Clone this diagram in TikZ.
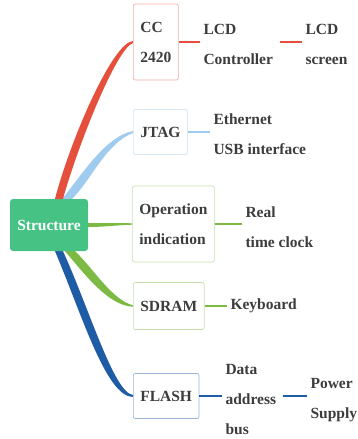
\documentclass[tikz,border=0pt]{standalone}
\usepackage{fontspec}
\setmainfont{Liberation Serif}
\newfontfamily\mapfont{Liberation Serif}[BoldFont={Liberation Serif Bold}]
\usetikzlibrary{backgrounds}

\definecolor{rootgreen}{HTML}{46C285}
\definecolor{ccred}{HTML}{E4503B}
\definecolor{jtagblue}{HTML}{9FCBEE}
\definecolor{opgreen}{HTML}{7CBA43}
\definecolor{flashblue}{HTML}{1E5CA6}
\definecolor{inkgray}{HTML}{3C3C3C}

\begin{document}
\begin{tikzpicture}[x=1pt,y=-1pt,
  every node/.style={font=\mapfont\fontsize{15.5}{30}\selectfont\bfseries,text=inkgray},
  root/.style={fill=rootgreen,text=white,rounded corners=3pt,minimum width=78pt,minimum height=52pt},
  part/.style={draw=#1!45,line width=0.7pt,rounded corners=2pt,align=left,
    inner xsep=7pt,anchor=west,fill=white},
  leaf/.style={align=left,inner sep=3pt,anchor=west},
  link/.style={draw=#1,line width=1.1pt}]

  \useasboundingbox (0,0) rectangle (357,439);

  \node [root] (s) at (49,225) {Structure};

  \begin{scope}[every path/.style={link=ccred}]
    \node [part=ccred, minimum height=76pt] (cc) at (133,42) {CC\\2420};
    \node [leaf] (lcdc) at (200,44) {LCD\\Controller};
    \node [leaf] (lcds) at (302,44) {LCD\\screen};
    \draw (cc.east) -- (cc.east -| lcdc.west);
    \draw [shorten <=3pt] (cc.east -| lcdc.east) -- (cc.east -| lcds.west);
  \end{scope}

  \begin{scope}[every path/.style={link=jtagblue}]
    \node [part=jtagblue, minimum height=45pt] (jtag) at (133,132) {JTAG};
    \node [leaf] (eth) at (210,134) {Ethernet\\USB interface};
    \draw (jtag.east) -- (jtag.east -| eth.west);
  \end{scope}

  \begin{scope}[every path/.style={link=opgreen}]
    \node [part=opgreen, minimum height=76pt] (op) at (132,224) {Operation\\indication};
    \node [leaf] (rtc) at (242,227) {Real\\time clock};
    \draw (op.east) -- (op.east -| rtc.west);
  \end{scope}

  \begin{scope}[every path/.style={link=opgreen}]
    \node [part=opgreen, minimum height=47pt] (sdram) at (133,306) {SDRAM};
    \node [leaf] (kbd) at (227,306) {Keyboard};
    \draw (sdram.east) -- (kbd.west);
  \end{scope}

  \begin{scope}[every path/.style={link=flashblue}]
    \node [part=flashblue, minimum height=45pt] (flash) at (133,396) {FLASH};
    \node [leaf] (dab) at (222,400) {Data\\address\\bus};
    \node [leaf] (pwr) at (307,400) {Power\\Supply};
    \draw (flash.east) -- (flash.east -| dab.west);
    \draw [shorten <=3pt] (flash.east -| dab.east) -- (flash.east -| pwr.west);
  \end{scope}

  \begin{pgfonlayer}{background}
    \fill [jtagblue] ([xshift=13pt]s.north) .. controls (80,178) and (104,137) .. ([yshift=1pt]jtag.west)
      -- ([yshift=-1pt]jtag.west) .. controls (106,143) and (90,182) .. ([xshift=23pt]s.north) -- cycle;
    \fill [ccred] ([xshift=6pt]s.north) .. controls (71,138) and (113,42) .. ([yshift=1pt]cc.west)
      -- ([yshift=-1pt]cc.west) .. controls (117,48) and (79,142) .. ([xshift=14pt]s.north) -- cycle;
    \fill [opgreen] ([yshift=2pt]s.east) .. controls (105,223) and (118,223) .. ([yshift=0.7pt]op.west)
      -- ([yshift=-0.7pt]op.west) .. controls (118,225) and (105,227) .. ([yshift=-2pt]s.east) -- cycle;
    \fill [opgreen] ([xshift=16pt]s.south) .. controls (83,272) and (108,306) .. ([yshift=-0.7pt]sdram.west)
      -- ([yshift=0.7pt]sdram.west) .. controls (112,300) and (93,268) .. ([xshift=26pt]s.south) -- cycle;
    \fill [flashblue] ([xshift=6pt]s.south) .. controls (81,312) and (106,397) .. ([yshift=-1pt]flash.west)
      -- ([yshift=1pt]flash.west) .. controls (114,393) and (89,308) .. ([xshift=14pt]s.south) -- cycle;
  \end{pgfonlayer}
\end{tikzpicture}
\end{document}
